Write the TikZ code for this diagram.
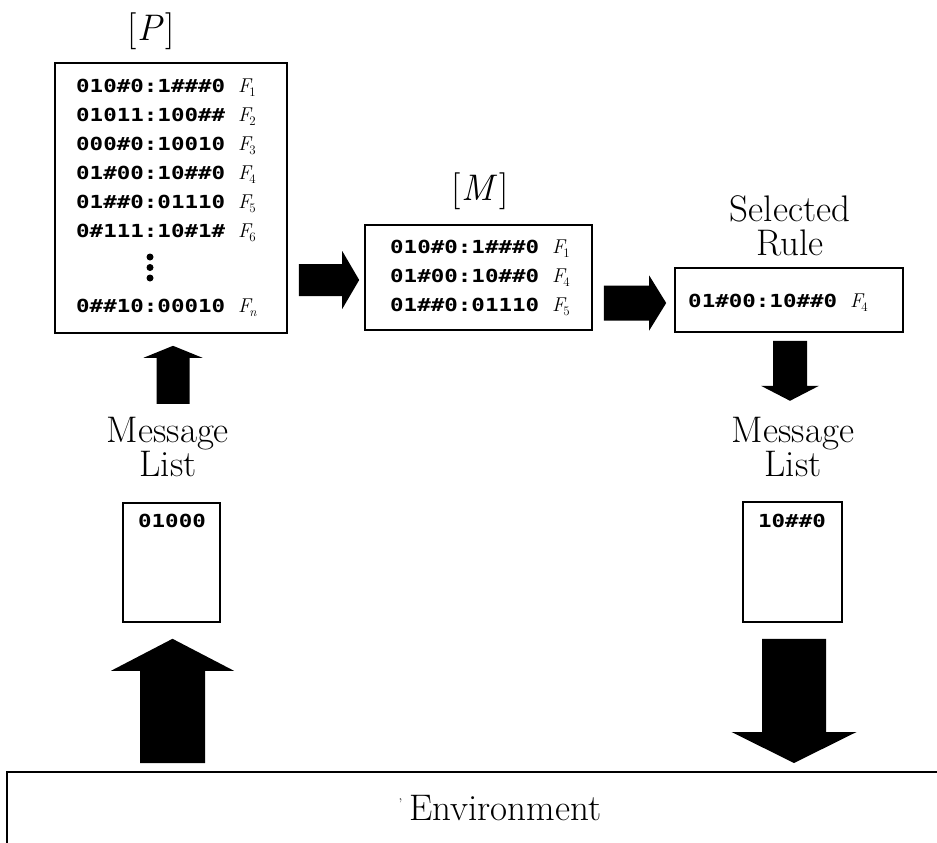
\documentclass[tikz,border=0pt]{standalone}
\usepackage{fontspec}
\usetikzlibrary{calc}
\newfontfamily\rulefont{DejaVu Sans Mono}[FakeStretch=1.25]
\newcommand\Fsub[1]{{\normalfont\fontsize{20}{20}\selectfont\itshape F\kern-1.5pt\raisebox{-4pt}{\fontsize{13}{13}\selectfont\upshape #1}}}
\newcommand\blockarrow[5]{%
  \coordinate (tmpbase) at ($(#2)!#5!(#1)$);
  \fill ($(#1)!#3!90:(#2)$) -- ($(tmpbase)!#3!90:(#2)$) -- ($(tmpbase)!#4!90:(#2)$) -- (#2)
     -- ($(tmpbase)!#4!-90:(#2)$) -- ($(tmpbase)!#3!-90:(#2)$) -- ($(#1)!#3!-90:(#2)$) -- cycle;}
\begin{document}
\begin{tikzpicture}[x=1pt,y=-1pt,
  box/.style={draw,line width=1.6pt,inner sep=0pt},
  lbl/.style={font=\fontsize{37}{34}\selectfont,align=center,inner sep=0pt},
  rl/.style={anchor=west,inner sep=0pt,font=\fontsize{18}{20}\selectfont},
  ]
\useasboundingbox (0,0) rectangle (937,843);
\clip (0,0) rectangle (937,843);

% rule set [P]
\node[box,minimum width=232pt,minimum height=270pt] (P) at (171,198) {};
\node[lbl] (Plabel) at (151,31) {[\kern1pt\textit{P}\kern2pt]};
\node[rl] (p1) at (76,88)  {\rulefont\bfseries 010\#0:1\#\#\#0\hspace{13pt}\Fsub{1}};
\node[rl] (p2) at (76,117) {\rulefont\bfseries 01011:100\#\#\hspace{13pt}\Fsub{2}};
\node[rl] (p3) at (76,146) {\rulefont\bfseries 000\#0:10010\hspace{13pt}\Fsub{3}};
\node[rl] (p4) at (76,175) {\rulefont\bfseries 01\#00:10\#\#0\hspace{13pt}\Fsub{4}};
\node[rl] (p5) at (76,204) {\rulefont\bfseries 01\#\#0:01110\hspace{13pt}\Fsub{5}};
\node[rl] (p6) at (76,233) {\rulefont\bfseries 0\#111:10\#1\#\hspace{13pt}\Fsub{6}};
\fill (150,257) circle (3.5pt) (150,267.5) circle (3.5pt) (150,278) circle (3.5pt);
\node[rl] (pn) at (76,308) {\rulefont\bfseries 0\#\#10:00010\hspace{13pt}\Fsub{\itshape n}};

% match set [M]
\node[box,minimum width=227pt,minimum height=105pt] (M) at (478.5,277.5) {};
\node[lbl] (Mlabel) at (480,191) {[\kern1pt\textit{M}\kern1pt]};
\node[rl] (m1) at (390,249) {\rulefont\bfseries 010\#0:1\#\#\#0\hspace{13pt}\Fsub{1}};
\node[rl] (m2) at (390,278) {\rulefont\bfseries 01\#00:10\#\#0\hspace{13pt}\Fsub{4}};
\node[rl] (m3) at (390,307) {\rulefont\bfseries 01\#\#0:01110\hspace{13pt}\Fsub{5}};

% selected rule
\node[box,minimum width=228pt,minimum height=64pt] (S) at (789,300) {};
\node[lbl] (Slabel) at (790,226) {Selected\\Rule};
\node[rl] (s1) at (688,303) {\rulefont\bfseries 01\#00:10\#\#0\hspace{13pt}\Fsub{4}};

% message lists
\node[lbl] (ml1) at (168,447) {Message\\List};
\node[box,minimum width=97pt,minimum height=119pt] (L) at (171.5,562.5) {};
\node[rl,anchor=center] (l1) at (172,521) {\rulefont\bfseries 01000};
\node[lbl] (ml2) at (793,447) {Message\\List};
\node[box,minimum width=99pt,minimum height=120pt] (R) at (792.5,562) {};
\node[rl,anchor=center] (r1) at (792,521) {\rulefont\bfseries 10\#\#0};

% environment
\node[box,minimum width=960pt,minimum height=100pt,anchor=north west] (env) at (6,771) {};
\node[lbl] (envlabel) at (500,808) {{\fontsize{14}{14}\selectfont\raisebox{12pt}{'}}\hspace{7pt}Environment};

% block arrows
\coordinate (a1s) at ($(P.east)+(11,82)$);
\coordinate (a1e) at ($(M.west)+(-5,2.5)$);
\blockarrow{a1s}{a1e}{16pt}{29pt}{17pt}
\coordinate (a2s) at ($(M.east)+(11,25.5)$);
\coordinate (a2e) at ($(S.west)+(-8,3)$);
\blockarrow{a2s}{a2e}{17.5pt}{27.5pt}{17pt}
\coordinate (a3s) at ($(P.south)+(2,70)$);
\coordinate (a3e) at ($(P.south)+(2,12)$);
\blockarrow{a3s}{a3e}{16.5pt}{29.5pt}{12pt}
\coordinate (a4s) at ($(S.south)+(1,8)$);
\coordinate (a4e) at ($(S.south)+(1,68)$);
\blockarrow{a4s}{a4e}{17pt}{29pt}{15pt}
\coordinate (a5s) at ($(env.north west)+(166.5,-8)$);
\coordinate (a5e) at ($(L.south)+(1,16)$);
\blockarrow{a5s}{a5e}{32.5pt}{61.5pt}{32pt}
\coordinate (a6s) at ($(R.south)+(1.5,16)$);
\coordinate (a6e) at ($(env.north west)+(788,-8)$);
\blockarrow{a6s}{a6e}{32pt}{62.5pt}{31pt}
\end{tikzpicture}
\end{document}
